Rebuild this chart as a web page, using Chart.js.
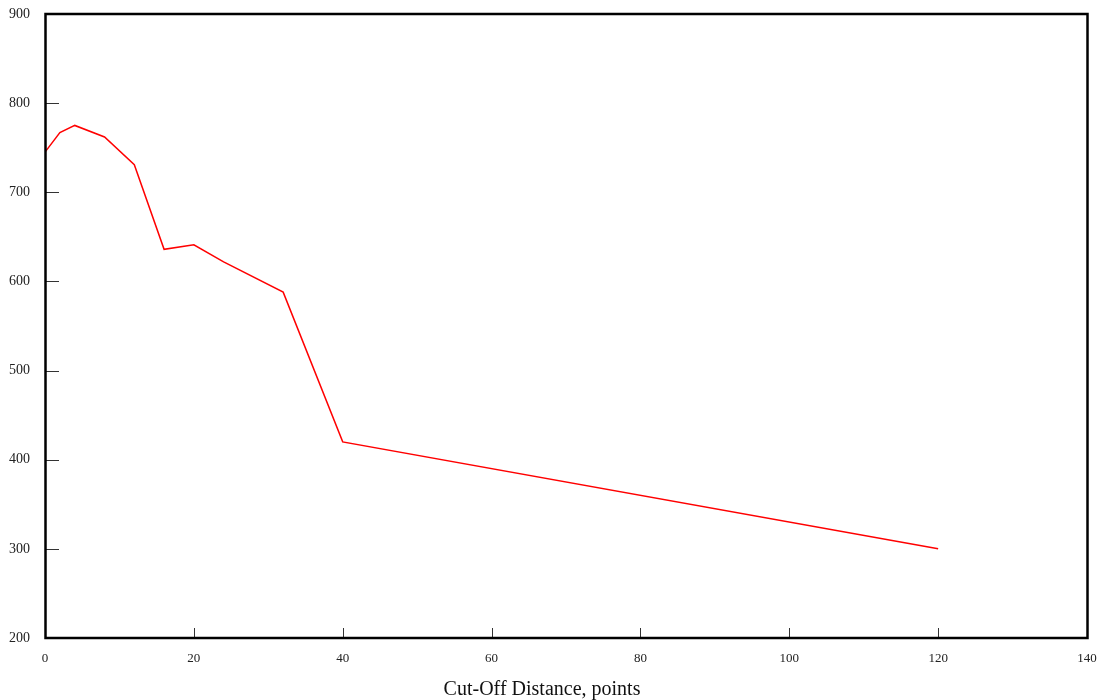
<!DOCTYPE html>
<html>
<head>
<meta charset="utf-8">
<script src="https://cdn.jsdelivr.net/npm/chart.js@4/dist/chart.umd.min.js"></script>
<style>
  html, body { margin: 0; padding: 0; background: #fff; }
  #wrap { width: 1100px; height: 700px; }
</style>
</head>
<body>
<div id="wrap"><canvas id="chart" width="1100" height="700"></canvas></div>
<script>
// cut-off distance (points) vs. value
const distances = [0, 2, 4, 8, 12, 16, 20, 24, 32, 40, 120];
const values    = [745, 767, 775, 762, 731, 636, 641, 622, 588, 420, 300];

const xTicks = [0, 20, 40, 60, 80, 100, 120, 140];
const yTicks = [200, 300, 400, 500, 600, 700, 800, 900];
const xTitle = 'Cut-Off Distance, points';

const SERIF = '"Liberation Serif", "Times New Roman", serif';

// frame box + inward tick marks, plus the x-axis caption
const framePlugin = {
  id: 'frame',
  afterDraw(chart) {
    const { ctx, chartArea: a, scales: { x, y } } = chart;
    ctx.save();

    ctx.strokeStyle = '#333';
    ctx.lineWidth = 1;
    ctx.beginPath();
    xTicks.slice(1, -1).forEach((v) => {
      const px = Math.round(x.getPixelForValue(v)) + 0.5;
      ctx.moveTo(px, a.bottom);
      ctx.lineTo(px, a.bottom - 10);
    });
    yTicks.slice(1, -1).forEach((v) => {
      const py = Math.round(y.getPixelForValue(v)) + 0.5;
      ctx.moveTo(a.left, py);
      ctx.lineTo(a.left + 14, py);
    });
    ctx.stroke();

    ctx.strokeStyle = '#000';
    ctx.lineWidth = 2.5;
    ctx.strokeRect(a.left + 0.5, a.top, a.right - a.left, a.bottom - a.top);

    ctx.fillStyle = '#111';
    ctx.font = '20px ' + SERIF;
    ctx.textAlign = 'center';
    ctx.textBaseline = 'alphabetic';
    ctx.fillText(xTitle, 542, 695);
    ctx.restore();
  },
};

new Chart(document.getElementById('chart'), {
  type: 'line',
  data: {
    datasets: [{
      data: distances.map((d, i) => ({ x: d, y: values[i] })),
      borderColor: '#ff0000',
      borderWidth: 1.5,
      pointRadius: 0,
      tension: 0,
      fill: false,
    }],
  },
  options: {
    responsive: false,
    animation: false,
    events: [],
    layout: { padding: { top: 14, right: 13, left: 0, bottom: 0 } },
    plugins: { legend: { display: false }, tooltip: { enabled: false } },
    scales: {
      x: {
        type: 'linear',
        min: 0, max: 140,
        afterBuildTicks: (s) => { s.ticks = xTicks.map((v) => ({ value: v })); },
        afterFit: (s) => { s.height = 62; s.paddingLeft = 0; s.paddingRight = 0; },
        grid: { display: false, drawTicks: false },
        border: { display: false },
        ticks: { color: '#222', padding: 13, maxRotation: 0, autoSkip: false, font: { family: SERIF, size: 13 } },
      },
      y: {
        type: 'linear',
        min: 200, max: 900,
        afterBuildTicks: (s) => { s.ticks = yTicks.map((v) => ({ value: v })); },
        afterFit: (s) => { s.width = 45; s.paddingTop = 0; s.paddingBottom = 0; },
        grid: { display: false, drawTicks: false },
        border: { display: false },
        ticks: { color: '#222', padding: 15, autoSkip: false, font: { family: SERIF, size: 14 } },
      },
    },
  },
  plugins: [framePlugin],
});
</script>
</body>
</html>
